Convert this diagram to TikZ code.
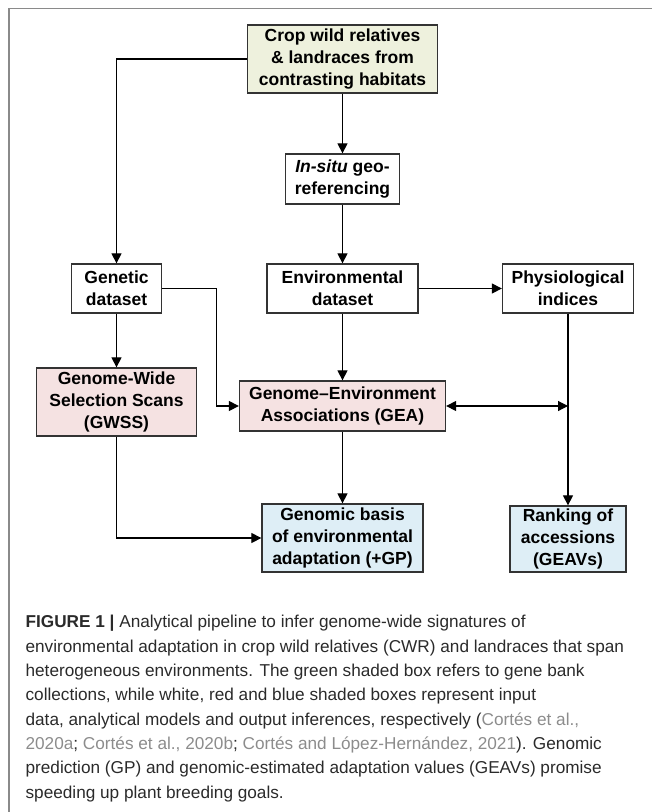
\documentclass[tikz,border=0pt]{standalone}
\usepackage{fontspec}
\setmainfont{Liberation Sans}
\usetikzlibrary{arrows.meta}
\definecolor{cwrgreen}{HTML}{EEF1DD}
\definecolor{modelred}{HTML}{F5E2E2}
\definecolor{outblue}{HTML}{DEEEF6}
\definecolor{framegray}{HTML}{8A8A8A}
\definecolor{refgray}{HTML}{8C8C8C}
\definecolor{capgray}{HTML}{2A2A2A}

\begin{document}
\begin{tikzpicture}[x=1pt, y=-1pt, line width=1.2pt, >={Triangle[length=10pt,width=10pt]},
        main/.style = {draw=black!80, line width=1.3pt, align=center, inner sep=0pt,
            font=\fontsize{17.5}{21.7}\selectfont\bfseries},
        model/.style = {main, fill=modelred},
        output/.style = {main, fill=outblue}]
        \useasboundingbox (0,0) rectangle (652,812);
        \draw[framegray, line width=1.6pt] (652,8.5) -- (9,8.5) -- (9,812);

        \node[main, fill=cwrgreen, minimum width=190, minimum height=68] (crop) at (342.5,59) {Crop wild relatives\\\& landraces from\\contrasting habitats};
        \node[main, minimum width=114, minimum height=50] (insitu) at (342.5,179) {\textit{In-situ} geo-\\referencing};
        \node[main, minimum width=90, minimum height=49] (genetic) at (116.5,288.5) {Genetic\\dataset};
        \node[main, minimum width=151, minimum height=49] (envdata) at (342.5,288.5) {Environmental\\dataset};
        \node[main, minimum width=131, minimum height=49] (physio) at (568,288.5) {Physiological\\indices};
        \node[model, minimum width=160, minimum height=68] (gwss) at (116.5,402) {Genome-Wide\\Selection Scans\\(GWSS)};
        \node[model, minimum width=206, minimum height=50] (gea) at (342.5,406) {Genome–Environment\\Associations (GEA)};
        \node[output, minimum width=161, minimum height=68] (basis) at (342.5,538) {Genomic basis\\of environmental\\adaptation (+GP)};
        \node[output, minimum width=116, minimum height=66] (ranking) at (568,539) {Ranking of\\accessions\\(GEAVs)};

        \node[anchor=base west, align=left, inner sep=0pt, text=capgray,
            font=\fontsize{17.2}{24.3}\selectfont] (caption) at (25,798)
            {\textbf{FIGURE 1 |} Analytical pipeline to infer genome-wide signatures of\\
            environmental adaptation in crop wild relatives (CWR) and landraces that span\\
            heterogeneous environments. The green shaded box refers to gene bank\\
            collections, while white, red and blue shaded boxes represent input\\
            data, analytical models and output inferences, respectively (\textcolor{refgray}{Cortés et al.,}\\
            \textcolor{refgray}{2020a}; \textcolor{refgray}{Cortés et al., 2020b}; \textcolor{refgray}{Cortés and López-Hernández, 2021}). Genomic\\
            prediction (GP) and genomic-estimated adaptation values (GEAVs) promise\\
            speeding up plant breeding goals.};

        \draw[->] (crop) -- (insitu);
        \draw[->] (insitu) -- (envdata);
        \draw[->] (crop.west) -| (genetic.north);
        \draw[->] (genetic) -- (gwss);
        \draw[->] (genetic.east) -- ++(54,0) |- (gea.west);
        \draw[->] (envdata) -- (physio);
        \draw[->] (envdata) -- (gea);
        \draw[->] (physio) -- (ranking);
        \draw[<->] (gea.east) -- (gea.east -| physio.south);
        \draw[->] (gea) -- (basis);
        \draw[->] (gwss.south) |- (basis.west);
    \end{tikzpicture}
\end{document}
